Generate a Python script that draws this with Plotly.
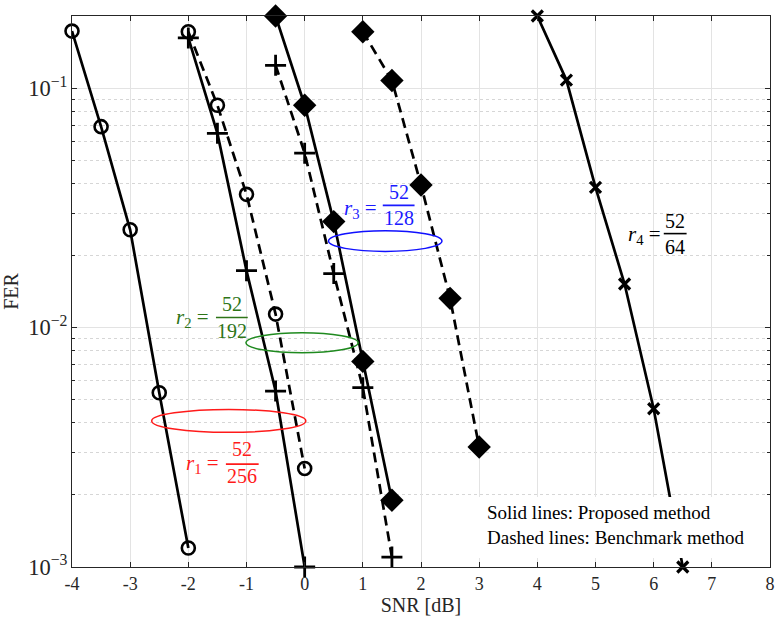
import math
import plotly.graph_objects as go

# ---------------- data ----------------
snr_r1_prop = [-4, -3.5, -3, -2.5, -2]
fer_r1_prop = [0.173, 0.069, 0.0256, 0.00534, 0.00120]

snr_r1_bench = [-2, -1.5, -1, -0.5, 0]
fer_r1_bench = [0.172, 0.0848, 0.0360, 0.01138, 0.00258]

snr_r2_prop = [-2, -1.5, -1, -0.5, 0]
fer_r2_prop = [0.162, 0.0647, 0.01728, 0.00543, 0.00100]

snr_r2_bench = [-0.5, 0, 0.5, 1, 1.5]
fer_r2_bench = [0.1245, 0.0535, 0.0168, 0.00561, 0.00110]

snr_r3_prop = [-0.5, 0, 0.5, 1, 1.5]
fer_r3_prop = [0.200, 0.0848, 0.0277, 0.00722, 0.00190]

snr_r3_bench = [1, 1.5, 2, 2.5, 3]
fer_r3_bench = [0.172, 0.1076, 0.0394, 0.01324, 0.00317]

snr_r4_prop = [4, 4.5, 5, 5.5, 6, 6.5]
fer_r4_prop = [0.200, 0.108, 0.0385, 0.0152, 0.00458, 0.00100]

x_ticks = [-4, -3, -2, -1, 0, 1, 2, 3, 4, 5, 6, 7, 8]

# ---------------- layout geometry (pixels) ----------------
W, H = 778, 622
L, R, T, B = 72, 775, 15.5, 567


def px(xp):
    return (xp - L) / (R - L)


def py(yp):
    return (B - yp) / (B - T)


SERIF = "Liberation Serif"
AX = "#262626"

fig = go.Figure()

line_w = 2.7
dash = "10px,6px"


def add(x, y, symbol, size, dashed, filled=False, mlw=2.4):
    fig.add_trace(go.Scatter(
        x=x, y=y, mode="lines+markers", cliponaxis=False,
        line=dict(color="black", width=line_w, dash=dash if dashed else "solid"),
        marker=dict(symbol=symbol, size=size, color="black",
                    line=dict(color="black", width=0 if filled else mlw)),
        showlegend=False,
    ))


add(snr_r1_prop, fer_r1_prop, "circle-open", 13, False, mlw=2.6)
add(snr_r1_bench, fer_r1_bench, "circle-open", 13, True, mlw=2.6)
add(snr_r2_prop, fer_r2_prop, "cross-thin-open", 15, False, mlw=2.8)
add(snr_r2_bench, fer_r2_bench, "cross-thin-open", 15, True, mlw=2.8)
add(snr_r3_prop, fer_r3_prop, "diamond", 18, False, filled=True)
add(snr_r3_bench, fer_r3_bench, "diamond", 18, True, filled=True)
add(snr_r4_prop, fer_r4_prop, "x-thin-open", 11, False, mlw=3.2)

shapes = []
annotations = []

# ellipses (data coordinates)
ellipses = [
    (-2.63, 0.02, 0.00365, 0.00455, "#ff1a1a"),
    (-1.01, 0.92, 0.00785, 0.00951, "#1f8a1f"),
    (0.41, 2.36, 0.0208, 0.02535, "#1010ff"),
]
for x0, x1, y0, y1, c in ellipses:
    shapes.append(dict(type="circle", xref="x", yref="y", x0=x0, x1=x1, y0=y0, y1=y1,
                       line=dict(color=c, width=1.5), layer="above"))

# white box behind the legend text
shapes.append(dict(type="rect", xref="paper", yref="paper",
                   x0=px(474), x1=px(773), y0=py(558), y1=py(497),
                   fillcolor="white", line=dict(width=0), layer="above"))

annotations.append(dict(
    xref="paper", yref="paper", x=px(488), y=py(524.5), xanchor="left", yanchor="middle",
    text="Solid lines: Proposed method<br>Dashed lines: Benchmark method",
    align="left", showarrow=False, font=dict(family=SERIF, size=19, color="black"),
))

# rate labels with fractions
labels = [
    # (idx, color, label right x, label y, bar x0, bar x1, bar y, num y, den y, num, den)
    ("1", "#ff1a1a", 222, 464, 227, 260, 464, 449, 476, "52", "256"),
    ("2", "#2d7417", 212, 318, 217, 249, 317.3, 303.3, 330.5, "52", "192"),
    ("3", "#1a1aff", 381, 209, 385, 417, 205, 191.7, 217.7, "52", "128"),
    ("4", "black", 667, 234.3, 668, 691, 233.3, 221, 247, "52", "64"),
]
for idx, c, lx, ly, bx0, bx1, by, ny, dy, num, den in labels:
    annotations.append(dict(
        xref="paper", yref="paper", x=px(lx), y=py(ly), xanchor="right", yanchor="middle",
        text=f"<i>r</i><sub>{idx}</sub> =", showarrow=False,
        font=dict(family=SERIF, size=21, color=c),
    ))
    cx = (bx0 + bx1) / 2
    for t, yy in ((num, ny), (den, dy)):
        annotations.append(dict(
            xref="paper", yref="paper", x=px(cx), y=py(yy), xanchor="center", yanchor="middle",
            text=t, showarrow=False, font=dict(family=SERIF, size=20, color=c),
        ))
    shapes.append(dict(type="line", xref="paper", yref="paper",
                       x0=px(bx0), x1=px(bx1), y0=py(by), y1=py(by),
                       line=dict(color=c, width=1.6)))

fig.update_layout(
    width=W, height=H,
    margin=dict(l=L, r=W - R, t=T, b=H - B),
    paper_bgcolor="white", plot_bgcolor="white",
    font=dict(family=SERIF, size=18, color=AX),
    shapes=shapes, annotations=annotations,
)

fig.update_xaxes(
    range=[-4, 8], tickvals=x_ticks, ticktext=[str(v) for v in x_ticks],
    ticks="inside", ticklen=5, tickcolor=AX, mirror="allticks",
    showline=True, linecolor=AX, linewidth=1, ticklabeloverflow="allow",
    showgrid=True, gridcolor="#e3e3e3", gridwidth=1, zeroline=False,
    tickfont=dict(family=SERIF, size=18, color=AX),
    title=dict(text="SNR [dB]", font=dict(family=SERIF, size=20, color=AX), standoff=4),
)
fig.update_yaxes(
    type="log", range=[-3, math.log10(0.2)], dtick=1, exponentformat="power",
    ticks="inside", ticklen=5, tickcolor=AX, mirror="allticks",
    showline=True, linecolor=AX, linewidth=1,
    showgrid=True, gridcolor="#e3e3e3", gridwidth=1, zeroline=False,
    tickfont=dict(family=SERIF, size=18, color=AX),
    minor=dict(ticks="inside", ticklen=3, tickcolor=AX, showgrid=True,
               gridcolor="#d6d6d6", griddash="dot", gridwidth=1),
    title=dict(text="FER", font=dict(family=SERIF, size=20, color=AX), standoff=10),
)

fig.write_html("out.html", config={"displayModeBar": False},
               post_script="document.body.style.margin='0';document.body.style.padding='0';")
